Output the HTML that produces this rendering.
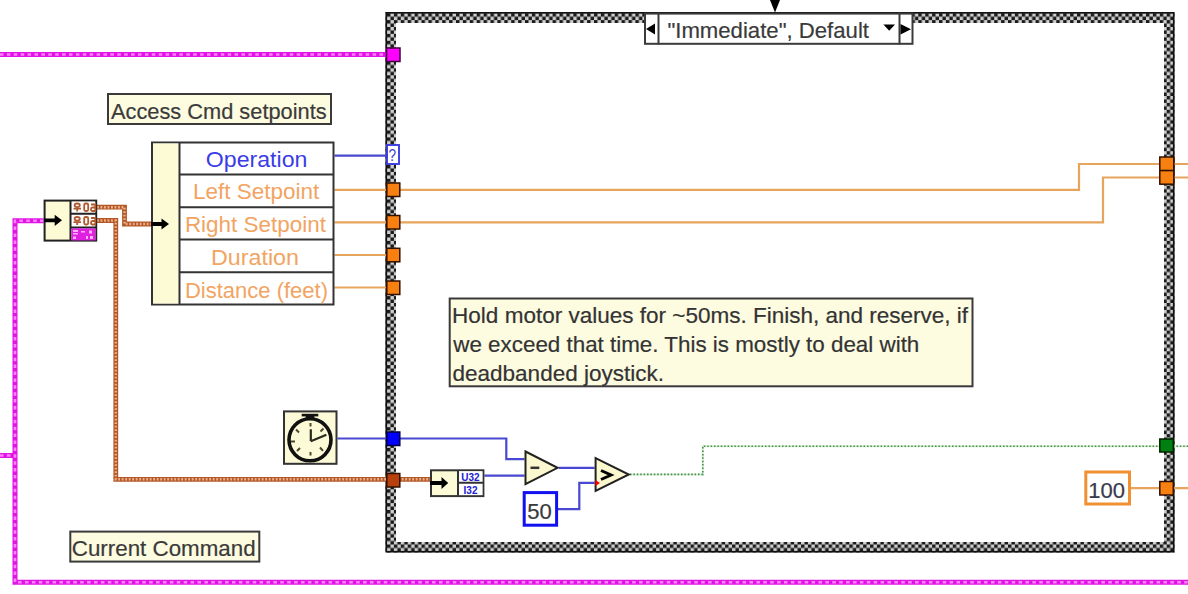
<!DOCTYPE html>
<html><head><meta charset="utf-8">
<style>
html,body{margin:0;padding:0;background:#fff;width:1188px;height:594px;overflow:hidden}
svg{display:block}
text{font-family:"Liberation Sans",sans-serif;font-size:22px;stroke-width:0.2px}
</style></head><body>
<svg width="1188" height="594" viewBox="0 0 1188 594">
<defs>
<pattern id="chk" x="387" y="13.2" width="6.9" height="6.9" patternUnits="userSpaceOnUse">
<rect width="6.9" height="6.9" fill="#cfcfcf"/>
<path d="M0 0H3.45V3.45H0Z M3.45 3.45H6.9V6.9H3.45Z" fill="#1a1a1a"/>
</pattern>
</defs>

<!-- frame -->
<g><path fill="url(#chk)" fill-rule="evenodd" d="M385.5 12H1174.5V552.5H385.5Z M396 23H1164V542H396Z"/>
<rect x="386.3" y="12.8" width="787.4" height="538.9" fill="none" stroke="#111" stroke-width="1.6"/></g>

<!-- case selector -->
<rect x="645" y="13.6" width="267.5" height="30.2" fill="#fff" stroke="#3a3a3a" stroke-width="2"/>
<line x1="658.5" y1="12.5" x2="658.5" y2="44.5" stroke="#3a3a3a" stroke-width="2"/>
<line x1="899.5" y1="12.5" x2="899.5" y2="44.5" stroke="#3a3a3a" stroke-width="2"/>
<path d="M646 29L655 23.5V34.5Z" fill="#000"/>
<path d="M900.5 24L911 29.3L900.5 34.5Z" fill="#000"/>
<path d="M883.4 24.4H895L889.2 30.7Z" fill="#000"/>
<path d="M770 0H780L775 12.5Z" fill="#000"/>
<text x="667.4" y="37.5" fill="#3a3a3a" textLength="201.6" lengthAdjust="spacingAndGlyphs" stroke="#3a3a3a">"Immediate", Default</text>

<!-- wires: pink cluster -->
<g fill="none" stroke-linejoin="miter">
<path d="M0 54.5H386" stroke="#e014e4" stroke-width="5"/>
<path d="M0 54.5H386" stroke="#ff80ff" stroke-width="2.6" stroke-dasharray="3.5 3.4"/>
<path d="M43.6 220.7H15V582.3H1188 M0 455.5H15" stroke="#e014e4" stroke-width="5"/>
<path d="M43.6 220.7H15V582.3H1188 M0 455.5H15" stroke="#ff80ff" stroke-width="2.6" stroke-dasharray="3.5 3.4"/>
<!-- brown cluster -->
<path d="M97 207.2H124.5V224H151 M97 220.5H115.8V479.3H430" stroke="#b05828" stroke-width="4.8"/>
<path d="M97 207.2H124.5V224H151 M97 220.5H115.8V479.3H430" stroke="#f2ac84" stroke-width="2.4" stroke-dasharray="1.9 1.6"/>
<!-- blue wires -->
<path d="M334.5 155.6H387" stroke="#4848d0" stroke-width="2.2"/>
<path d="M337.5 438.5H506.3V459.1H524.5 M484.4 475.6H524.5 M558.8 467.8H594.6 M558 509.1H579.3V482.9H594.6" stroke="#4848d0" stroke-width="2.2"/>
<!-- orange wires -->
<path d="M334.5 189.8H1079V164H1188 M334.5 222.3H1103V177.5H1188 M334.5 255H387 M334.5 287.5H387 M1131 488.2H1188" stroke="#e6a45c" stroke-width="2.2"/>
<!-- green bool -->
<path d="M630 474.4H702.8V446.2H1188" stroke="#d0f0d0" stroke-width="2"/>
<path d="M630 474.4H702.8V446.2H1188" stroke="#508850" stroke-width="1.6" stroke-dasharray="1.5 1.9"/>
</g>

<!-- tunnels -->
<rect x="386.5" y="48" width="13.5" height="13.5" fill="#ff00ff" stroke="#400040" stroke-width="1.5"/>
<rect x="387" y="145" width="12" height="19" fill="#fff" stroke="#3c3ce0" stroke-width="1.9"/>
<text x="0" y="0" fill="#4040c8" text-anchor="middle" transform="translate(392.3 160.8) scale(0.8 1)" style="font-size:17px">?</text>
<g fill="#f88010" stroke="#301000" stroke-width="1.5">
<rect x="386.8" y="183" width="13" height="13.5"/>
<rect x="386.8" y="215.5" width="13" height="13.5"/>
<rect x="386.8" y="248.3" width="13" height="13.5"/>
<rect x="386.8" y="281" width="13" height="13.5"/>
<rect x="1159.8" y="157" width="14" height="13.6"/>
<rect x="1159.8" y="170.6" width="14" height="13.6"/>
<rect x="1159.8" y="481.5" width="13.5" height="13.5"/>
</g>
<rect x="386.8" y="432" width="13" height="13.5" fill="#0000ff" stroke="#000040" stroke-width="1.5"/>
<rect x="386.8" y="473.5" width="13" height="13.5" fill="#b8400c" stroke="#301000" stroke-width="1.5"/>
<rect x="1159.8" y="439" width="13.5" height="13" fill="#008010" stroke="#002000" stroke-width="1.5"/>

<!-- Access label -->
<rect x="108" y="94" width="223" height="30" fill="#fdfbe0" stroke="#3a3a3a" stroke-width="2"/>
<text x="111" y="118.8" fill="#3a3a3a" textLength="215.6" lengthAdjust="spacingAndGlyphs" stroke="#3a3a3a">Access Cmd setpoints</text>

<!-- Unbundle by name -->
<rect x="152" y="142.5" width="181.5" height="162" fill="#fff" stroke="#333" stroke-width="2"/>
<rect x="153" y="143.5" width="26" height="160" fill="#fdfbd6"/>
<path d="M179.5 142.5V304.5 M179.5 174.5H333.5 M179.5 207.3H333.5 M179.5 239.6H333.5 M179.5 272.2H333.5" stroke="#333" stroke-width="2" fill="none"/>
<path d="M151 222H161.5V218.5L169 224L161.5 229.5V226H151Z" fill="#000"/>
<g text-anchor="middle" fill="#f2a462">
<text x="256.6" y="166.5" fill="#3c3ce6" textLength="101.5" lengthAdjust="spacingAndGlyphs">Operation</text>
<text x="256.2" y="199.3" textLength="126.3" lengthAdjust="spacingAndGlyphs">Left Setpoint</text>
<text x="255.4" y="232.1" textLength="141" lengthAdjust="spacingAndGlyphs">Right Setpoint</text>
<text x="255" y="264.9" textLength="88" lengthAdjust="spacingAndGlyphs">Duration</text>
<text x="256.5" y="297.7">Distance (feet)</text>
</g>

<!-- left node -->
<rect x="44.6" y="200.6" width="51.6" height="40" fill="#fdfbd6" stroke="#222" stroke-width="2"/>
<rect x="71" y="201.6" width="24.2" height="38" fill="#fff"/>
<path d="M70.5 200.6V240.6 M70.5 213.7H96.2 M70.5 227.4H96.2" stroke="#222" stroke-width="2" fill="none"/>
<path d="M44 218.5H54.7V214.7L62 220.3L54.7 226V222.2H44Z" fill="#000"/>
<g fill="none" stroke="#b05a30" stroke-width="1.8">
<ellipse cx="77.2" cy="205.3" rx="2.6" ry="1.8"/><path d="M73.5 208.6H81 M77.2 208.6V211.5"/>
<rect x="84.2" y="203.5" width="4" height="7.5" rx="1.5"/>
<path d="M91 204.5H95.3V211 M95.3 207.5H92.2Q91 207.5 91 209.2Q91 211 92.5 211H95.3"/>
<ellipse cx="77.2" cy="218.8" rx="2.6" ry="1.8"/><path d="M73.5 222.1H81 M77.2 222.1V225"/>
<rect x="84.2" y="217" width="4" height="7.5" rx="1.5"/>
<path d="M91 218H95.3V224.5 M95.3 221H92.2Q91 221 91 222.7Q91 224.5 92.5 224.5H95.3"/>
</g>
<rect x="71.5" y="228.4" width="24" height="12" fill="#e020e0"/>
<g fill="#ffb0ff">
<rect x="73" y="230" width="5" height="2"/><rect x="73" y="233" width="5" height="1.5"/><rect x="81" y="231" width="4" height="1.5"/><rect x="89" y="230.5" width="3" height="3"/><rect x="73" y="236.5" width="3" height="2.5"/><rect x="86" y="236" width="2" height="3"/><rect x="90" y="236" width="3" height="3"/>
</g>

<!-- clock -->
<rect x="284" y="411.4" width="52.5" height="52.4" fill="#fdfad8" stroke="#333" stroke-width="2"/>
<circle cx="310" cy="439.8" r="21" fill="none" stroke="#111" stroke-width="3.6"/>
<rect x="301.7" y="413.8" width="16.6" height="2.6" fill="#111"/>
<rect x="305.7" y="415" width="8.6" height="4.5" fill="#111"/>
<path d="M310.8 441.3V429.2 M310.8 441.3L326.4 434.8" stroke="#2a2a20" stroke-width="2.2" fill="none"/>
<g stroke="#4a4a30" stroke-width="2" fill="none">
<path d="M310.5 423V426.5 M310.5 452V455.5 M291 441.5H295 M320.5 431.5L323.5 428.5 M296 429.5L299 432.5 M320 447.5L323 450.8 M297 451L300 448"/>
</g>

<!-- U32 node -->
<rect x="431" y="470.3" width="52.4" height="25.8" fill="#fdfbd6" stroke="#333" stroke-width="2"/>
<rect x="459" y="471.3" width="23.4" height="23.8" fill="#fff"/>
<path d="M458 470.3V496.1 M458 482.8H483.4" stroke="#333" stroke-width="2" fill="none"/>
<path d="M430 481H441.5V477L448.2 483L441.5 489V485H430Z" fill="#000"/>
<text x="470.5" y="480.5" fill="#2020d0" text-anchor="middle" style="font-size:10px;font-weight:bold">U32</text>
<text x="470.5" y="494" fill="#2020d0" text-anchor="middle" style="font-size:10px;font-weight:bold">I32</text>

<!-- subtract / greater -->
<path d="M525.5 451.5V484.2L557.6 467.8Z" fill="#fbf8d0" stroke="#222" stroke-width="2" stroke-linejoin="miter"/>
<path d="M530.5 467.8H539.3" stroke="#333" stroke-width="2.5"/>
<path d="M595.6 458V491L628.8 474.5Z" fill="#fbf8d0" stroke="#222" stroke-width="2" stroke-linejoin="miter"/>
<path d="M601 470.5L611 475L601 479.5" fill="none" stroke="#000" stroke-width="3"/>
<path d="M595.5 480V486L600 483Z" fill="#ff0000"/>

<!-- constants -->
<rect x="524.2" y="492.6" width="32.4" height="32.6" fill="#fff" stroke="#1010f0" stroke-width="3"/>
<text x="539.5" y="519" fill="#3a3a3a" text-anchor="middle" stroke="#3a3a3a">50</text>
<rect x="1085.8" y="472" width="43.7" height="32" fill="#fff" stroke="#f09030" stroke-width="3"/>
<text x="1106.7" y="498" fill="#3a3a4a" text-anchor="middle" stroke="#3a3a4a">100</text>

<!-- comment -->
<rect x="449.7" y="298.5" width="522.8" height="87.8" fill="#fdfbe0" stroke="#3a3a3a" stroke-width="2"/>
<g fill="#333" stroke="#333">
<text x="452.1" y="323.3" textLength="516" lengthAdjust="spacingAndGlyphs">Hold motor values for ~50ms. Finish, and reserve, if</text>
<text x="453.3" y="351.9" textLength="466" lengthAdjust="spacingAndGlyphs">we exceed that time. This is mostly to deal with</text>
<text x="452.5" y="380.5" textLength="211.5" lengthAdjust="spacingAndGlyphs">deadbanded joystick.</text>
</g>

<!-- Current Command -->
<rect x="70.3" y="531.6" width="189" height="30" fill="#fdfbe0" stroke="#3a3a3a" stroke-width="2"/>
<text x="71.8" y="556.1" fill="#3a3a3a" textLength="183.8" lengthAdjust="spacingAndGlyphs" stroke="#3a3a3a">Current Command</text>

</svg>
</body></html>
